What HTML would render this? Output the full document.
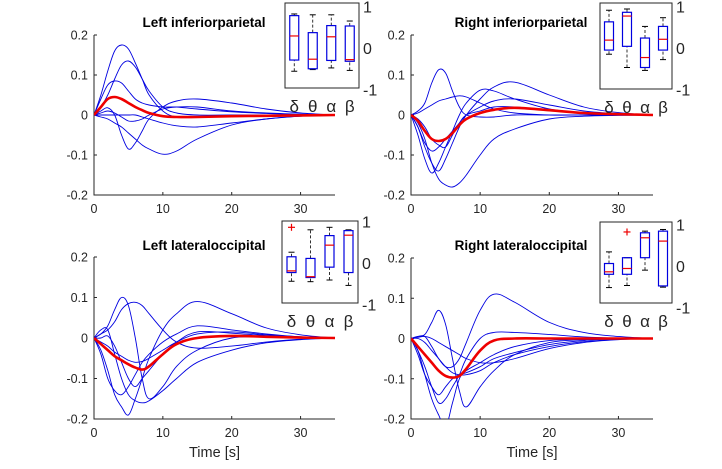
<!DOCTYPE html>
<html><head><meta charset="utf-8"><style>
body{margin:0;background:#fff;}
svg{display:block;font-family:"Liberation Sans",sans-serif;}
</style></head><body>
<svg id="fig" width="722" height="469" viewBox="0 0 722 469"></svg>
<script>
const times=[0,1,2,3,4,5,6,7,8,10,12,15,20,25,30,35];
const xTicks=[0,10,20,30];
const yTicks=[0.2,0.1,0,-0.1,-0.2];
const yTickLabels=["0.2","0.1","0","-0.1","-0.2"];
const bands=["δ","θ","α","β"];
const titles=["Left inferiorparietal","Right inferiorparietal","Left lateraloccipital","Right lateraloccipital"];
const seriesLIP=[
[0,0.05,0.11,0.16,0.175,0.165,0.13,0.09,0.05,0.01,-0.005,-0.005,-0.003,-0.002,0,0],
[0,0.02,0.05,0.09,0.125,0.135,0.12,0.09,0.06,0.02,0.005,0,0,0,0,0],
[0,0.04,0.075,0.085,0.08,0.06,0.04,0.03,0.025,0.02,0.02,0.015,0.008,0.004,0.001,0],
[0,0.01,0.018,0,-0.05,-0.085,-0.07,-0.04,-0.01,0.02,0.035,0.04,0.03,0.015,0.005,0],
[0,0.005,0.01,0.005,-0.005,-0.015,-0.015,-0.01,0,0.015,0.02,0.02,0.01,0.005,0.002,0],
[0,-0.005,-0.01,-0.02,-0.03,-0.045,-0.06,-0.075,-0.085,-0.098,-0.09,-0.06,-0.025,-0.01,-0.003,0],
[0,0,0,0,0,0,0,-0.005,-0.01,-0.02,-0.027,-0.03,-0.02,-0.01,-0.003,0]];
const meanLIP=[0,0.02,0.04,0.045,0.04,0.03,0.02,0.012,0.005,-0.003,-0.005,-0.005,-0.003,-0.002,-0.001,0];
const seriesRIP=[
[0,0.01,0.03,0.08,0.113,0.105,0.06,0.02,0,-0.005,-0.005,0,0,0,0,0],
[0,-0.02,-0.06,-0.12,-0.16,-0.175,-0.18,-0.17,-0.15,-0.1,-0.06,-0.035,-0.01,-0.003,-0.001,0],
[0,-0.05,-0.11,-0.145,-0.12,-0.08,-0.04,0,0.03,0.062,0.06,0.04,0.015,0.005,0.001,0],
[0,-0.03,-0.08,-0.12,-0.14,-0.11,-0.07,-0.03,0,0.04,0.07,0.082,0.05,0.02,0.006,0],
[0,0.005,0.015,0.025,0.035,0.04,0.045,0.048,0.045,0.03,0.015,0.005,0,0,0,0],
[0,-0.03,-0.07,-0.09,-0.08,-0.06,-0.04,-0.02,0,0.02,0.035,0.04,0.025,0.01,0.003,0],
[0,-0.01,-0.03,-0.06,-0.075,-0.08,-0.05,-0.02,0,0.01,0.02,0.02,0.012,0.005,0.002,0]];
const meanRIP=[0,-0.015,-0.04,-0.06,-0.065,-0.06,-0.045,-0.025,-0.01,0.005,0.013,0.018,0.012,0.005,0.002,0];
const seriesLLO=[
[0,0.01,0.03,0.07,0.1,0.08,0,-0.1,-0.15,-0.12,-0.07,-0.03,0,0.002,0.001,0],
[0,0.01,0.02,0.04,0.07,0.085,0.088,0.08,0.06,0.02,-0.01,-0.025,-0.02,-0.01,-0.003,0],
[0,-0.03,-0.08,-0.14,-0.17,-0.19,-0.15,-0.1,-0.05,0.02,0.06,0.09,0.06,0.025,0.008,0],
[0,0.02,0.02,-0.04,-0.1,-0.14,-0.155,-0.16,-0.155,-0.13,-0.1,-0.06,-0.03,-0.012,-0.004,0],
[0,-0.04,-0.1,-0.13,-0.14,-0.12,-0.09,-0.06,-0.04,-0.01,0.01,0.03,0.02,0.01,0.003,0],
[0,-0.01,-0.02,-0.035,-0.045,-0.055,-0.06,-0.058,-0.05,-0.03,-0.01,0.01,0.015,0.008,0.003,0],
[0,0,0.005,-0.02,-0.06,-0.1,-0.12,-0.1,-0.08,-0.04,-0.01,0.015,0.012,0.006,0.002,0]];
const meanLLO=[0,-0.015,-0.03,-0.045,-0.055,-0.065,-0.073,-0.078,-0.07,-0.04,-0.015,0,0.005,0.003,0.001,0];
const seriesRLO=[
[0,0.005,0.01,0.04,0.07,0.035,-0.05,-0.13,-0.17,-0.12,-0.08,-0.04,-0.01,-0.003,-0.001,0],
[0,0.005,0.005,-0.02,-0.05,-0.07,-0.07,-0.05,-0.01,0.07,0.11,0.09,0.04,0.015,0.005,0],
[0,-0.03,-0.09,-0.15,-0.19,-0.22,-0.16,-0.1,-0.08,-0.06,-0.04,-0.02,-0.005,-0.002,0,0],
[0,-0.04,-0.09,-0.12,-0.14,-0.12,-0.1,-0.09,-0.085,-0.07,-0.05,-0.035,-0.015,-0.005,-0.001,0],
[0,-0.03,-0.07,-0.12,-0.16,-0.15,-0.12,-0.09,-0.05,0,0.015,0.015,0.01,0.004,0.001,0],
[0,0.003,0.005,0,-0.01,-0.02,-0.03,-0.04,-0.05,-0.06,-0.06,-0.05,-0.025,-0.01,-0.003,0],
[0,0,-0.01,-0.03,-0.05,-0.07,-0.085,-0.09,-0.09,-0.08,-0.06,-0.04,-0.02,-0.008,-0.002,0]];
const meanRLO=[0,-0.02,-0.04,-0.06,-0.08,-0.093,-0.097,-0.093,-0.075,-0.03,-0.005,0,0,0,0,0];
// boxplot stats per band: [whiskerLow, q1, median, q3, whiskerHigh]
const boxLIP=[[-0.56,-0.29,0.29,0.78,0.82],[-0.52,-0.5,-0.27,0.37,0.8],[-0.48,-0.3,0.27,0.54,0.8],[-0.54,-0.32,-0.28,0.53,0.65]];
const boxRIP=[[-0.15,-0.05,0.19,0.63,0.91],[-0.47,0.04,0.77,0.86,0.94],[-0.54,-0.47,-0.23,0.24,0.52],[-0.28,-0.05,0.21,0.52,0.73]];
const boxLLO=[[-0.44,-0.23,-0.19,0.15,0.26],[-0.45,-0.35,-0.33,0.11,0.8],[-0.41,-0.1,0.43,0.66,0.86],[-0.54,-0.23,0.67,0.78,0.8]];
const boxRLO=[[-0.52,-0.2,-0.14,0.06,0.34],[-0.47,-0.2,-0.06,0.2,0.2],[-0.1,0.2,0.68,0.8,0.84],[-0.51,-0.48,0.6,0.84,0.88]];
const outLIP=[[],[],[],[]];
const outRIP=[[],[],[],[]];
const outLLO=[[0.86],[],[],[]];
const outRLO=[[],[0.82],[],[]];

const NS="http://www.w3.org/2000/svg";
const fig=document.getElementById('fig');
function mk(tag,attrs,parent,text){const e=document.createElementNS(NS,tag);for(const k in attrs)e.setAttribute(k,attrs[k]);if(text!==undefined)e.textContent=text;(parent||fig).appendChild(e);return e;}
function smooth(pts){
 let d=`M${pts[0][0]},${pts[0][1]}`;
 for(let i=0;i<pts.length-1;i++){
  const p0=pts[Math.max(0,i-1)],p1=pts[i],p2=pts[i+1],p3=pts[Math.min(pts.length-1,i+2)];
  const t=0.18;
  const c1=[p1[0]+(p2[0]-p0[0])*t,p1[1]+(p2[1]-p0[1])*t];
  const c2=[p2[0]-(p3[0]-p1[0])*t,p2[1]-(p3[1]-p1[1])*t];
  d+=`C${c1[0]},${c1[1]} ${c2[0]},${c2[1]} ${p2[0]},${p2[1]}`;
 }
 return d;
}

const panels=[
 {series:seriesLIP,mean:meanLIP,box:boxLIP,out:outLIP,x0:94,x1:335,yTop:35,yBot:195,tx:204,ty:27,ix0:285,ix1:359,iy0:3,iy1:88,i0:48,xl:false,name:'left-inferiorparietal'},
 {series:seriesRIP,mean:meanRIP,box:boxRIP,out:outRIP,x0:411,x1:653,yTop:35,yBot:195,tx:521,ty:27,ix0:600,ix1:672,iy0:3,iy1:89,i0:48,xl:false,name:'right-inferiorparietal'},
 {series:seriesLLO,mean:meanLLO,box:boxLLO,out:outLLO,x0:94,x1:335,yTop:257,yBot:419,tx:204,ty:250,ix0:282,ix1:358,iy0:221,iy1:303,i0:263,xl:true,name:'left-lateraloccipital'},
 {series:seriesRLO,mean:meanRLO,box:boxRLO,out:outRLO,x0:411,x1:653,yTop:258,yBot:419,tx:521,ty:250,ix0:600,ix1:672,iy0:222,iy1:303,i0:266,xl:true,name:'right-lateraloccipital'}];

panels.forEach((p,pi)=>{
 const g=mk('g',{});
 
 
 const X=t=>p.x0+(t/35)*(p.x1-p.x0);
 const Y=v=>p.yBot-(v+0.2)/0.4*(p.yBot-p.yTop);
 const clipId='clip'+pi;
 const cp=mk('clipPath',{id:clipId},g);mk('rect',{x:p.x0,y:p.yTop,width:p.x1-p.x0+2,height:p.yBot-p.yTop},cp);
 const ax=mk('path',{d:`M${p.x0},${p.yTop}V${p.yBot}H${p.x1}`,fill:'none',stroke:'#262626','stroke-width':1},g);
 
 
 yTicks.forEach((v,i)=>{
  mk('line',{x1:p.x0,x2:p.x0+3,y1:Y(v),y2:Y(v),stroke:'#262626'},g);
  const t=mk('text',{x:p.x0-6,y:Y(v)+4.5,'text-anchor':'end','font-size':12.5,fill:'#262626'},g,yTickLabels[i]);
  
  
 });
 xTicks.forEach(v=>{
  mk('line',{x1:X(v),x2:X(v),y1:p.yBot,y2:p.yBot-3,stroke:'#262626'},g);
  const t=mk('text',{x:X(v),y:p.yBot+18,'text-anchor':'middle','font-size':12.5,fill:'#262626'},g,String(v));
  
  
 });
 if(p.xl){const t=mk('text',{x:(p.x0+p.x1)/2,y:p.yBot+38,'text-anchor':'middle','font-size':14.5,fill:'#262626'},g,'Time [s]');
  
  }
 const lg=mk('g',{'clip-path':`url(#${clipId})`},g);
 p.series.forEach(s=>{
  const l=mk('path',{d:smooth(s.map((v,i)=>[X(times[i]),Y(v)])),fill:'none',stroke:'#0000e0','stroke-width':0.9},lg);
  
  
 });
 const m=mk('path',{d:smooth(p.mean.map((v,i)=>[X(times[i]),Y(v)])),fill:'none',stroke:'#ee0000','stroke-width':2.6,'stroke-linejoin':'round'},lg);
 
 
 const tt=mk('text',{x:p.tx,y:p.ty,'text-anchor':'middle','font-size':13.5,'font-weight':'bold',fill:'#000'},g,titles[pi]);
 
 
 const ig=mk('g',{},g);
 
 
 mk('rect',{x:p.ix0,y:p.iy0,width:p.ix1-p.ix0,height:p.iy1-p.iy0,fill:'#fff',stroke:'#262626'},ig);
 const IY=v=>p.i0-v*41.5;
 const IX=k=>p.ix0+(k+0.5)*(p.ix1-p.ix0)/4;
 [1,0,-1].forEach(v=>{
  const t=mk('text',{x:p.ix1+4,y:IY(v)+6,'font-size':16,fill:'#262626'},ig,String(v));
  
  
 });
 p.box.forEach((b,k)=>{
  const cx=IX(k),w=4.5;
  const bg=mk('g',{},ig);
  
  
  mk('line',{x1:cx,x2:cx,y1:IY(b[0]),y2:IY(b[1]),stroke:'#000','stroke-dasharray':'3,2','stroke-width':0.8},bg);
  mk('line',{x1:cx,x2:cx,y1:IY(b[3]),y2:IY(b[4]),stroke:'#000','stroke-dasharray':'3,2','stroke-width':0.8},bg);
  mk('line',{x1:cx-3,x2:cx+3,y1:IY(b[0]),y2:IY(b[0]),stroke:'#000'},bg);
  mk('line',{x1:cx-3,x2:cx+3,y1:IY(b[4]),y2:IY(b[4]),stroke:'#000'},bg);
  mk('rect',{x:cx-w,y:IY(b[3]),width:2*w,height:IY(b[1])-IY(b[3]),fill:'none',stroke:'#0000e0','stroke-width':1.2},bg);
  mk('line',{x1:cx-w,x2:cx+w,y1:IY(b[2]),y2:IY(b[2]),stroke:'#ee0000','stroke-width':1.2},bg);
  p.out[k].forEach(o=>{
   const og=mk('g',{stroke:'#ee0000','stroke-width':1.2},bg);
   
   
   mk('line',{x1:cx-3.5,x2:cx+3.5,y1:IY(o),y2:IY(o)},og);
   mk('line',{x1:cx,x2:cx,y1:IY(o)-3.5,y2:IY(o)+3.5},og);
  });
  const bl=mk('text',{x:cx,y:p.iy1+24,'text-anchor':'middle','font-size':17,fill:'#262626'},ig,bands[k]);
  
  
 });
});
</script>
</body></html>
